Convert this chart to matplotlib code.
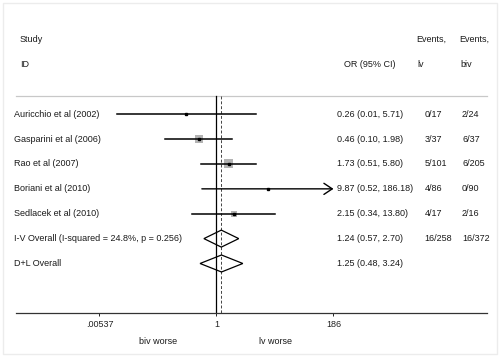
import matplotlib
matplotlib.use("Agg")
import matplotlib.pyplot as plt
from matplotlib.patches import Polygon, Rectangle
import numpy as np

plt.rcParams['font.family'] = ['Liberation Sans', 'DejaVu Sans']

studies = ["Auricchio et al (2002)", "Gasparini et al (2006)", "Rao et al (2007)",
           "Boriani et al (2010)", "Sedlacek et al (2010)"]
odds = [0.26, 0.46, 1.73, 9.87, 2.15]
lower = [0.012, 0.10, 0.51, 0.52, 0.34]
upper = [5.71, 1.98, 5.80, 186.18, 13.80]
weights = [5, 33, 42, 1, 19]  # rough, from box sizes
or_text = ["0.26 (0.01, 5.71)", "0.46 (0.10, 1.98)", "1.73 (0.51, 5.80)",
           "9.87 (0.52, 186.18)", "2.15 (0.34, 13.80)"]
events_lv = ["0/17", "3/37", "5/101", "4/86", "4/17"]
events_biv = ["2/24", "6/37", "6/205", "0/90", "2/16"]

pooled = ["I-V Overall (I-squared = 24.8%, p = 0.256)", "D+L Overall"]
pooled_or = [1.24, 1.25]
pooled_lo = [0.57, 0.48]
pooled_hi = [2.70, 3.24]
pooled_text = ["1.24 (0.57, 2.70)", "1.25 (0.48, 3.24)"]
pooled_lv = ["16/258", ""]
pooled_biv = ["16/372", ""]

ticks = [0.00537, 1, 186]
tick_labels = [".00537", "1", "186"]
axis_max = 186

fs = 6.5
txt_col = '#1a1a1a'
fig = plt.figure(figsize=(5, 3.57), dpi=100)
fig.patches.append(Rectangle((0.006, 0.008), 0.988, 0.984, transform=fig.transFigure,
                             fill=False, edgecolor='#ececec', lw=1))
ax = fig.add_axes([16 / 500, 1 - 313 / 357, 471 / 500, (313 - 24.4) / 357])
ax.set_xscale('log')
ax.set_xlim(10 ** -3.889, 10 ** 5.247)
ax.set_ylim(7.99, -3.61)
for s in ['top', 'left', 'right']:
    ax.spines[s].set_visible(False)
ax.spines['bottom'].set_linewidth(0.9)
ax.spines['bottom'].set_color('#333333')
ax.set_yticks([])
ax.set_xticks(ticks)
ax.set_xticklabels(tick_labels, fontsize=fs)
ax.minorticks_off()
ax.tick_params(axis='x', length=2.5, width=0.7, pad=2.5, colors='#222222')

tr = ax.get_yaxis_transform()  # x axes fraction, y data

def put(x, y, s, **kw):
    ax.text(x, y, s, transform=tr, fontsize=fs, va='center', color=txt_col, **kw)

# header
put(0.0085, -3, "Study")
put(0.0095, -2, "ID")
put(0.7516, -2, "OR (95% CI)", ha='center')
put(0.849, -3, "Events,")
put(0.853, -2, "lv")
put(0.9406, -3, "Events,")
put(0.9426, -2, "biv")
ax.plot([0, 1], [-0.72, -0.72], transform=tr, color='#c8c8c8', lw=0.9, clip_on=False)

# reference lines
ax.plot([1, 1], [-0.72, 7.99], color='black', lw=0.9)
ax.plot([pooled_or[0]] * 2, [-0.72, 7.99], color='#444444', lw=0.7, ls=(0, (3, 2)))

row_px = 24.9
for i, name in enumerate(studies):
    y = i
    side = 1.39 * np.sqrt(weights[i]) / row_px
    # grey weight box, square on screen
    x0 = odds[i] * 10 ** (-side * row_px / 2 / 51.55)
    x1 = odds[i] * 10 ** (side * row_px / 2 / 51.55)
    ax.add_patch(Rectangle((x0, y - side / 2), x1 - x0, side, facecolor='#b3b3b3',
                           edgecolor='none', zorder=2))
    if upper[i] > axis_max:
        ax.annotate("", xy=(axis_max, y), xytext=(lower[i], y),
                    arrowprops=dict(arrowstyle="->,head_length=0.6,head_width=0.4",
                                    color='black', lw=1.0, shrinkA=0, shrinkB=0),
                    zorder=3)
    else:
        ax.plot([lower[i], upper[i]], [y, y], color='black', lw=1.1, zorder=3)
    ax.plot(odds[i], y, marker='s', ms=1.8, color='black', zorder=4)
    put(-0.0042, y, name)
    put(0.6815, y, or_text[i])
    put(0.868, y, events_lv[i])
    put(0.947, y, events_biv[i])

h = 8.5 / row_px
for j, name in enumerate(pooled):
    y = len(studies) + j
    diamond = Polygon([(pooled_lo[j], y), (pooled_or[j], y - h), (pooled_hi[j], y),
                       (pooled_or[j], y + h)], closed=True, fill=False,
                      edgecolor='black', lw=0.9, zorder=3)
    ax.add_patch(diamond)
    put(-0.0042, y, name)
    put(0.6815, y, pooled_text[j])
    put(0.868, y, pooled_lv[j])
    put(0.947, y, pooled_biv[j])

# favours labels
ax.text(10 ** -1.135, 9.12, "biv worse", fontsize=fs, ha='center', va='center',
        color=txt_col, clip_on=False)
ax.text(10 ** 1.135, 9.12, "lv worse", fontsize=fs, ha='center', va='center',
        color=txt_col, clip_on=False)

fig.savefig("out.png", dpi=100)
